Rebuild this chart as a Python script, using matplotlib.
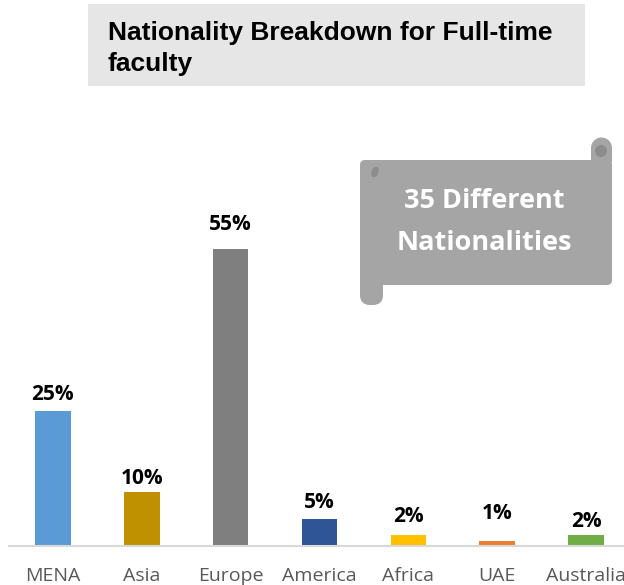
import matplotlib.pyplot as plt
from matplotlib.patches import FancyBboxPatch, Circle, Rectangle, Ellipse

# dados
regions = ['MENA', 'Asia', 'Europe', 'America', 'Africa', 'UAE', 'Australia']
shares = [25, 10, 55, 5, 2, 1, 2]
bar_colors = ['#5b9bd5', '#bf9000', '#7f7f7f', '#2f5597', '#ffc000', '#ed7d31', '#70ad47']
# deslocamento dos rótulos acima das barras (px), ajustados à mão como no original
label_gap = [17, 13, 24, 16, 19, 27, 14]
title = 'Nationality Breakdown for Full-time\nfaculty'
callout = '35 Different\nNationalities'

W, H = 624, 585
fig = plt.figure(figsize=(W / 100, H / 100), dpi=100)

# eixo das barras (baseline em y=546 px)
ax = fig.add_axes([8.5 / W, (H - 546) / H, 622 / W, 324 / H])
ax.bar(range(len(regions)), shares, width=0.4, color=bar_colors)
ax.set_xlim(-0.5, len(regions) - 0.5)
ax.set_ylim(0, 60)
for i, v in enumerate(shares):
    ax.annotate(f'{v}%', (i, v), xytext=(0, label_gap[i] * 0.72), textcoords='offset points',
                ha='center', va='center', fontsize=15, fontweight='bold',
                family='Open Sans', color='black')
ax.set_xticks(range(len(regions)))
ax.set_xticklabels(regions, fontsize=14, family='Open Sans', color='#595959')
ax.tick_params(axis='x', length=0, pad=15)
ax.set_yticks([])
for s in ['top', 'left', 'right']:
    ax.spines[s].set_visible(False)
ax.spines['bottom'].set_color('#d9d9d9')
ax.spines['bottom'].set_linewidth(1.5)
ax.set_facecolor('none')

# camada de desenho em pixels
ov = fig.add_axes([0, 0, 1, 1])
ov.set_xlim(0, W)
ov.set_ylim(H, 0)
ov.axis('off')
ov.patch.set_alpha(0)

# caixa do título
ov.add_patch(Rectangle((88, 4), 497, 82, color='#e7e6e6', lw=0))
ov.text(108, 48.5, title, ha='left', va='center', fontsize=19, fontweight='bold',
        family='Liberation Sans', color='black', linespacing=1.35)

# pergaminho
grey = '#a5a5a5'
ov.add_patch(Rectangle((591, 148), 21, 14, color=grey, lw=0))
ov.add_patch(Circle((601.5, 148), 10.5, color=grey, lw=0))
ov.add_patch(Circle((601, 151), 6, color='#8c8c8c', lw=0))
ov.add_patch(FancyBboxPatch((360, 160), 252, 125, boxstyle='round,pad=0,rounding_size=5',
                            color=grey, lw=0))
ov.add_patch(FancyBboxPatch((360, 270), 23, 35, boxstyle='round,pad=0,rounding_size=10',
                            color=grey, lw=0))
ov.add_patch(Ellipse((375, 172), 7, 11, angle=20, color='#8c8c8c', lw=0))
ov.text(484, 222, callout, ha='center', va='center', fontsize=19.5, fontweight='bold',
        family='Open Sans', color='white', linespacing=1.8)

fig.savefig('out.png', dpi=100)
